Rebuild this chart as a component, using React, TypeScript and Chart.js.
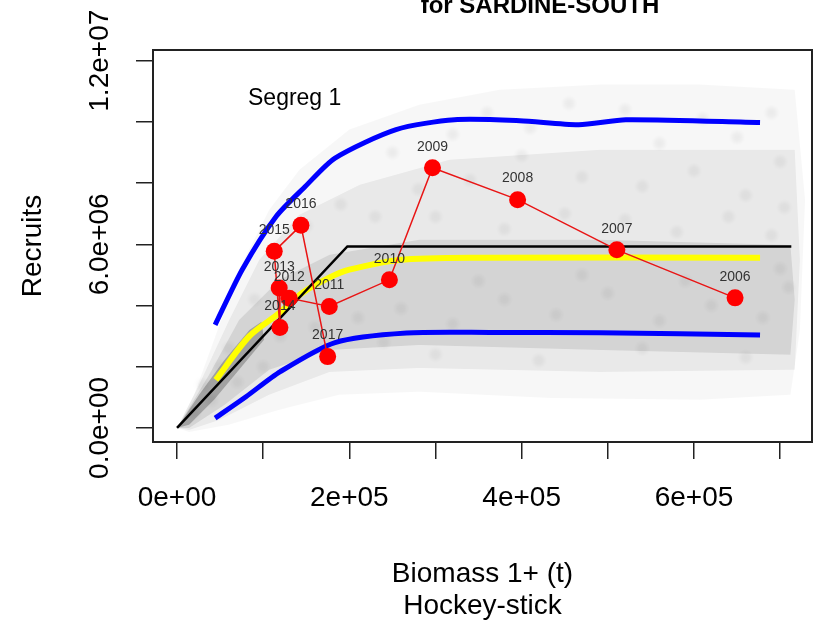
import { useEffect, useRef } from "react"
import { Chart, registerables } from "chart.js"

Chart.register(...registerables)

// observed stock-recruit pairs (labelled by year)
const years = ["2006", "2007", "2008", "2009", "2010", "2011", "2012", "2013", "2014", "2015", "2016", "2017"]
const ssb = [647700, 510500, 395300, 296500, 246500, 176700, 130200, 118600, 119400, 112800, 143800, 174800]
const recruits = [4.25e6, 5.82e6, 7.46e6, 8.5e6, 4.84e6, 3.97e6, 4.24e6, 4.57e6, 3.28e6, 5.77e6, 6.62e6, 2.33e6]

// fitted hockey-stick
const hockeyX = [0, 197700, 713000]
const hockeyY = [0, 5.93e6, 5.93e6]

// median of simulations (yellow)
const medianX = [45000, 83700, 118600, 145300, 176700, 200000, 258000, 351000, 676700]
const medianY = [1.57e6, 2.99e6, 3.75e6, 4.41e6, 4.91e6, 5.17e6, 5.49e6, 5.56e6, 5.56e6]

// 5% / 95% bounds (blue)
const upperX = [44200, 75600, 115000, 148800, 183400, 254200, 322000, 397700, 466300, 521000, 676700]
const upperY = [3.37e6, 5.17e6, 6.91e6, 7.89e6, 8.82e6, 9.75e6, 10.07e6, 10.04e6, 9.91e6, 10.07e6, 9.98e6]
const lowerX = [44200, 80000, 119800, 183400, 266300, 364000, 490700, 676700]
const lowerY = [0.32e6, 1.02e6, 1.84e6, 2.79e6, 3.1e6, 3.12e6, 3.11e6, 3.04e6]

// outlines of the simulated cloud, light to dark
const cloudOuter: [number, number][] = [
  [0, 0], [19800, 1.08e6], [43000, 2.88e6], [72000, 5.17e6], [107000, 7.13e6], [142000, 8.44e6],
  [200000, 9.75e6], [281000, 10.56e6], [374000, 11.05e6], [491000, 11.22e6], [607000, 11.22e6],
  [717000, 11.05e6], [729000, 7.46e6], [723000, 3.2e6], [712000, 1.08e6], [607000, 0.92e6],
  [433000, 0.98e6], [281000, 1.18e6], [188000, 1.08e6], [119000, 0.59e6], [60000, 0.1e6], [14000, -0.13e6],
]
const cloudMid: [number, number][] = [
  [0, 0], [25600, 1.41e6], [60500, 3.53e6], [95300, 5.49e6], [142000, 6.97e6], [212000, 7.95e6],
  [316000, 8.76e6], [491000, 9.09e6], [717000, 9.09e6], [723000, 5.49e6], [717000, 1.9e6],
  [491000, 1.83e6], [281000, 1.96e6], [177000, 1.83e6], [107000, 1.08e6], [49000, 0.26e6], [14000, -0.07e6],
]
const cloudCore: [number, number][] = [
  [0, 0], [37000, 1.73e6], [72000, 3.53e6], [119000, 4.84e6], [177000, 5.66e6], [281000, 6.15e6],
  [491000, 6.15e6], [712000, 5.98e6], [717000, 4.19e6], [712000, 2.39e6], [491000, 2.55e6],
  [281000, 2.71e6], [177000, 2.55e6], [107000, 1.9e6], [55000, 0.75e6], [14000, 0],
]
const cloudOrigin: [number, number][] = [
  [0, 0], [25600, 1.08e6], [55000, 2.22e6], [84000, 3.2e6], [98000, 3.47e6],
  [101000, 2.88e6], [72000, 1.9e6], [43000, 0.92e6], [14000, 0.1e6],
]
const cloudDots: [number, number][] = [
  [320000, 9.6e6], [360000, 10.3e6], [410000, 9.8e6], [455000, 10.6e6], [520000, 10.4e6], [560000, 9.3e6],
  [610000, 10.1e6], [650000, 9.5e6], [690000, 10.3e6], [700000, 8.7e6], [250000, 9.0e6], [280000, 7.8e6],
  [340000, 8.1e6], [400000, 8.9e6], [470000, 8.2e6], [540000, 7.9e6], [600000, 8.4e6], [660000, 7.6e6],
  [705000, 7.2e6], [150000, 6.6e6], [190000, 7.3e6], [230000, 6.9e6], [300000, 6.9e6], [380000, 6.5e6],
  [450000, 7.0e6], [520000, 6.8e6], [580000, 6.4e6], [640000, 6.9e6], [690000, 6.3e6], [120000, 3.0e6],
  [160000, 3.3e6], [210000, 3.6e6], [260000, 3.9e6], [320000, 3.4e6], [380000, 4.2e6], [440000, 3.7e6],
  [500000, 4.4e6], [560000, 3.5e6], [620000, 4.0e6], [680000, 3.6e6], [710000, 4.6e6], [300000, 2.4e6],
  [420000, 2.2e6], [540000, 2.6e6], [660000, 2.3e6], [240000, 2.8e6], [350000, 4.8e6], [470000, 5.0e6],
  [590000, 4.8e6], [700000, 5.2e6], [60000, 2.6e6], [90000, 4.2e6], [40000, 0.9e6], [70000, 1.5e6],
  [100000, 2.0e6], [30000, 1.4e6], [20000, 0.5e6], [50000, 2.0e6],
]

// axes
const xTicks = [0, 100000, 200000, 300000, 400000, 500000, 600000, 700000]
const xLabelValues = [0, 200000, 400000, 600000]
const xLabels = ["0e+00", "2e+05", "4e+05", "6e+05"]
const yTicks = [0, 2e6, 4e6, 6e6, 8e6, 10e6, 12e6]
const yLabelValues = [0, 6e6, 12e6]
const yLabels = ["0.0e+00", "6.0e+06", "1.2e+07"]

const FONT = '"Liberation Sans", Arial, Helvetica, sans-serif'
const CLOUD_FIRST = 5 // datasets from this index on make up the grey cloud

const pts = (xs: number[], ys: number[]) => xs.map((x, i) => ({ x, y: ys[i] }))
const poly = (p: [number, number][]) => p.map(([x, y]) => ({ x, y }))

// soften the cloud so it reads as a haze of points
const cloudBlur = {
  id: "cloudBlur",
  beforeDatasetDraw(chart: Chart, args: any) {
    if (args.index < CLOUD_FIRST) return
    chart.ctx.save()
    chart.ctx.filter = args.index === CLOUD_FIRST ? "blur(2px)" : "blur(9px)"
  },
  afterDatasetDraw(chart: Chart, args: any) {
    if (args.index >= CLOUD_FIRST) chart.ctx.restore()
  },
}

const overlay = {
  id: "overlay",
  afterDraw(chart: Chart) {
    const { ctx, chartArea: a } = chart
    const xs = chart.scales.x
    const ys = chart.scales.y
    ctx.save()
    ctx.strokeStyle = "#222"
    ctx.lineWidth = 2
    ctx.strokeRect(a.left, a.top, a.right - a.left, a.bottom - a.top)

    ctx.fillStyle = "#000"
    ctx.textAlign = "center"
    ctx.textBaseline = "alphabetic"
    ctx.font = `bold 24px ${FONT}`
    ctx.fillText("for SARDINE-SOUTH", 540, 13)

    ctx.font = `28px ${FONT}`
    ctx.textBaseline = "middle"
    xLabelValues.forEach((v, i) => ctx.fillText(xLabels[i], xs.getPixelForValue(v), 498))
    yLabelValues.forEach((v, i) => {
      ctx.save()
      ctx.translate(100, ys.getPixelForValue(v))
      ctx.rotate(-Math.PI / 2)
      ctx.fillText(yLabels[i], 0, 0)
      ctx.restore()
    })
    const cx = (a.left + a.right) / 2
    ctx.fillText("Biomass 1+ (t)", cx, 574)
    ctx.fillText("Hockey-stick", cx, 606)
    ctx.save()
    ctx.translate(33, (a.top + a.bottom) / 2)
    ctx.rotate(-Math.PI / 2)
    ctx.fillText("Recruits", 0, 0)
    ctx.restore()

    ctx.font = `23px ${FONT}`
    ctx.textAlign = "left"
    ctx.textBaseline = "alphabetic"
    ctx.fillText("Segreg 1", 248, 105)

    // year labels above the observed points
    const meta = chart.getDatasetMeta(0)
    ctx.font = `14px ${FONT}`
    ctx.fillStyle = "#333"
    ctx.textAlign = "center"
    ctx.textBaseline = "middle"
    meta.data.forEach((p: any, i: number) => ctx.fillText(years[i], p.x, p.y - 21))
    ctx.restore()
  },
}

export default function App() {
  const chartRef = useRef<HTMLCanvasElement>(null)
  const chartInstance = useRef<Chart | null>(null)

  useEffect(() => {
    if (!chartRef.current) return
    if (chartInstance.current) chartInstance.current.destroy()

    const band = (data: any[], color: string, order: number) => ({
      data,
      showLine: true,
      fill: "shape",
      backgroundColor: color,
      borderWidth: 0,
      pointRadius: 0,
      order,
    })

    chartInstance.current = new Chart(chartRef.current, {
      type: "line",
      data: {
        datasets: [
          {
            data: pts(ssb, recruits),
            borderColor: "#e81515",
            borderWidth: 1.5,
            backgroundColor: "#ff0000",
            pointBackgroundColor: "#ff0000",
            pointBorderWidth: 0,
            pointRadius: 8.5,
            order: 0,
          },
          {
            data: pts(hockeyX, hockeyY),
            borderColor: "#000",
            borderWidth: 2.5,
            pointRadius: 0,
            order: 1,
          },
          {
            data: pts(medianX, medianY),
            borderColor: "#ffff00",
            borderWidth: 6,
            pointRadius: 0,
            tension: 0.3,
            order: 2,
          },
          {
            data: pts(upperX, upperY),
            borderColor: "#0000ff",
            borderWidth: 5,
            pointRadius: 0,
            tension: 0.25,
            order: 3,
          },
          {
            data: pts(lowerX, lowerY),
            borderColor: "#0000ff",
            borderWidth: 5,
            pointRadius: 0,
            tension: 0.25,
            order: 3,
          },
          {
            data: poly(cloudDots),
            showLine: false,
            pointRadius: 6,
            pointBorderWidth: 0,
            pointBackgroundColor: "rgba(0,0,0,0.05)",
            order: 4,
          },
          band(poly(cloudOrigin), "rgba(0,0,0,0.24)", 5),
          band(poly(cloudCore), "rgba(0,0,0,0.09)", 6),
          band(poly(cloudMid), "rgba(0,0,0,0.06)", 7),
          band(poly(cloudOuter), "rgba(0,0,0,0.03)", 8),
        ] as any,
      },
      options: {
        responsive: false,
        animation: false,
        events: [],
        layout: { autoPadding: false, padding: { left: 0, top: 50, right: 1, bottom: 0 } },
        plugins: {
          legend: { display: false },
          tooltip: { enabled: false },
        },
        scales: {
          x: {
            type: "linear",
            min: -27900,
            max: 737000,
            afterBuildTicks: (s: any) => {
              s.ticks = xTicks.map((value) => ({ value }))
            },
            afterFit: (s: any) => {
              s.height = 183
            },
            ticks: { display: false },
            border: { display: false },
            grid: { drawOnChartArea: false, drawTicks: true, tickLength: 17, color: "#222", lineWidth: 1.5 },
          },
          y: {
            type: "linear",
            min: -460000,
            max: 12350000,
            afterBuildTicks: (s: any) => {
              s.ticks = yTicks.map((value) => ({ value }))
            },
            afterFit: (s: any) => {
              s.width = 153
            },
            ticks: { display: false },
            border: { display: false },
            grid: { drawOnChartArea: false, drawTicks: true, tickLength: 17, color: "#222", lineWidth: 1.5 },
          },
        },
      },
      plugins: [cloudBlur, overlay],
    })

    return () => {
      if (chartInstance.current) {
        chartInstance.current.destroy()
        chartInstance.current = null
      }
    }
  }, [])

  return (
    <div style={{ position: "fixed", left: 0, top: 0, width: 813, height: 625, background: "#fff" }}>
      <canvas ref={chartRef} width={813} height={625} style={{ display: "block" }} />
    </div>
  )
}
